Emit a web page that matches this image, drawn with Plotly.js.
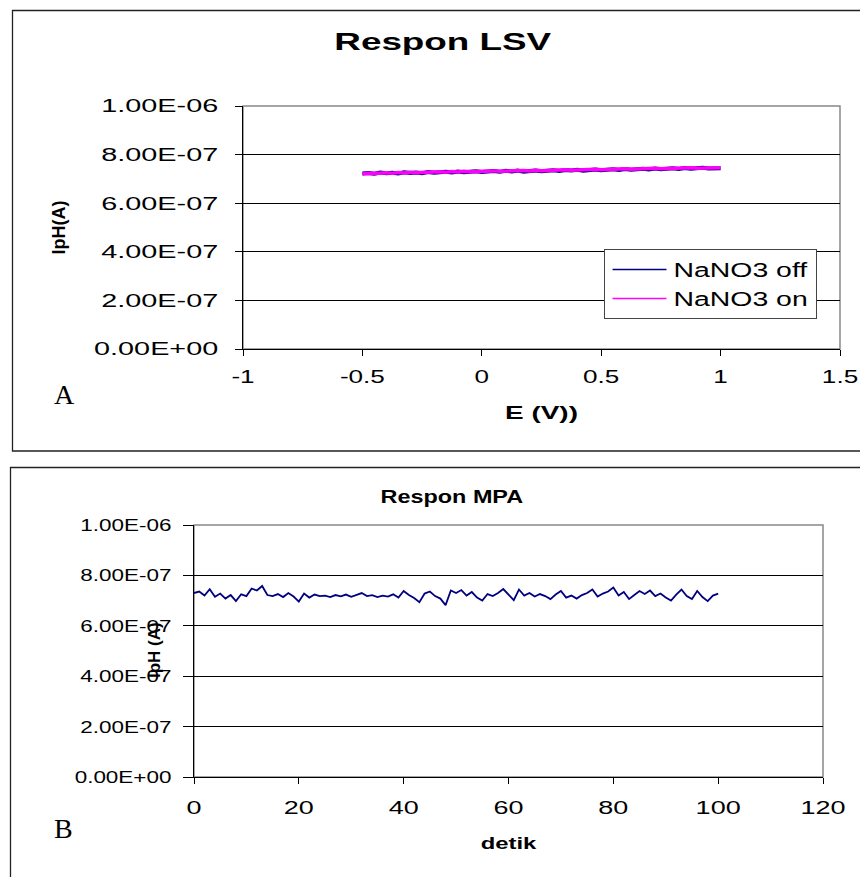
<!DOCTYPE html>
<html>
<head>
<meta charset="utf-8">
<script src="https://cdn.plot.ly/plotly-3.0.1.min.js"></script>
<style>
html,body{margin:0;padding:0;background:#fff;}
#chart{width:860px;height:877px;}
</style>
</head>
<body>
<div id="chart"></div>
<script>
// ---------- data ----------
var lsvE = [-0.5,-0.475,-0.45,-0.425,-0.4,-0.375,-0.35,-0.325,-0.3,-0.275,-0.25,-0.225,-0.2,-0.175,-0.15,-0.125,-0.1,-0.075,-0.05,-0.025,0,0.025,0.05,0.075,0.1,0.125,0.15,0.175,0.2,0.225,0.25,0.275,0.3,0.325,0.35,0.375,0.4,0.425,0.45,0.475,0.5,0.525,0.55,0.575,0.6,0.625,0.65,0.675,0.7,0.725,0.75,0.775,0.8,0.825,0.85,0.875,0.9,0.925,0.95,0.975,1.0];
var lsvOff = [7.22e-7,7.24e-7,7.21e-7,7.26e-7,7.23e-7,7.25e-7,7.22e-7,7.27e-7,7.24e-7,7.26e-7,
7.23e-7,7.28e-7,7.25e-7,7.27e-7,7.29e-7,7.26e-7,7.30e-7,7.27e-7,7.29e-7,7.31e-7,
7.28e-7,7.30e-7,7.32e-7,7.29e-7,7.33e-7,7.31e-7,7.34e-7,7.30e-7,7.33e-7,7.35e-7,
7.32e-7,7.34e-7,7.36e-7,7.33e-7,7.37e-7,7.35e-7,7.38e-7,7.34e-7,7.37e-7,7.39e-7,
7.36e-7,7.38e-7,7.40e-7,7.37e-7,7.41e-7,7.38e-7,7.40e-7,7.42e-7,7.39e-7,7.43e-7,
7.40e-7,7.42e-7,7.44e-7,7.41e-7,7.45e-7,7.42e-7,7.44e-7,7.46e-7,7.43e-7,7.45e-7,
7.44e-7];
var lsvOn = [7.20e-7,7.23e-7,7.22e-7,7.24e-7,7.25e-7,7.23e-7,7.26e-7,7.24e-7,7.27e-7,7.25e-7,
7.26e-7,7.28e-7,7.26e-7,7.29e-7,7.27e-7,7.30e-7,7.28e-7,7.31e-7,7.29e-7,7.30e-7,
7.32e-7,7.30e-7,7.33e-7,7.31e-7,7.32e-7,7.34e-7,7.32e-7,7.35e-7,7.33e-7,7.36e-7,
7.34e-7,7.35e-7,7.37e-7,7.35e-7,7.38e-7,7.36e-7,7.37e-7,7.39e-7,7.37e-7,7.40e-7,
7.38e-7,7.39e-7,7.41e-7,7.39e-7,7.42e-7,7.40e-7,7.41e-7,7.43e-7,7.41e-7,7.44e-7,
7.42e-7,7.43e-7,7.45e-7,7.43e-7,7.44e-7,7.46e-7,7.44e-7,7.45e-7,7.47e-7,7.45e-7,
7.46e-7];

var mpaT = [0,1,2,3,4,5,6,7,8,9,10,11,12,13,14,15,16,17,18,19,20,21,22,23,24,25,26,27,28,29,30,31,32,33,34,35,36,37,38,39,40,41,42,43,44,45,46,47,48,49,50,51,52,53,54,55,56,57,58,59,60,61,62,63,64,65,66,67,68,69,70,71,72,73,74,75,76,77,78,79,80,81,82,83,84,85,86,87,88,89,90,91,92,93,94,95,96,97,98,99,100];
var mpaI = [7.30e-7,7.36e-7,7.20e-7,7.45e-7,7.15e-7,7.28e-7,7.08e-7,7.22e-7,6.98e-7,7.25e-7,
7.18e-7,7.48e-7,7.40e-7,7.58e-7,7.22e-7,7.18e-7,7.26e-7,7.14e-7,7.30e-7,7.16e-7,
6.96e-7,7.28e-7,7.12e-7,7.24e-7,7.18e-7,7.20e-7,7.14e-7,7.22e-7,7.17e-7,7.24e-7,
7.15e-7,7.21e-7,7.30e-7,7.18e-7,7.22e-7,7.14e-7,7.20e-7,7.16e-7,7.25e-7,7.12e-7,
7.38e-7,7.22e-7,7.10e-7,6.94e-7,7.28e-7,7.36e-7,7.18e-7,7.08e-7,6.82e-7,7.40e-7,
7.30e-7,7.42e-7,7.20e-7,7.34e-7,7.12e-7,7.00e-7,7.26e-7,7.18e-7,7.30e-7,7.46e-7,
7.22e-7,7.02e-7,7.44e-7,7.20e-7,7.30e-7,7.16e-7,7.26e-7,7.18e-7,7.06e-7,7.24e-7,
7.38e-7,7.12e-7,7.20e-7,7.08e-7,7.22e-7,7.30e-7,7.44e-7,7.16e-7,7.28e-7,7.36e-7,
7.52e-7,7.20e-7,7.34e-7,7.06e-7,7.22e-7,7.38e-7,7.26e-7,7.40e-7,7.18e-7,7.28e-7,
7.12e-7,7.00e-7,7.24e-7,7.44e-7,7.18e-7,7.06e-7,7.38e-7,7.14e-7,6.98e-7,7.20e-7,
7.28e-7];

var yTickVals = [0,2e-7,4e-7,6e-7,8e-7,1e-6];
var yTickText = ['0.00E+00','2.00E-07','4.00E-07','6.00E-07','8.00E-07','1.00E-06'];
var lsvXTickVals = [-1,-0.5,0,0.5,1,1.5];
var lsvXTickText = ['-1','-0.5','0','0.5','1','1.5'];
var mpaXTickVals = [0,20,40,60,80,100,120];
var mpaXTickText = ['0','20','40','60','80','100','120'];

// ---------- layout helpers ----------
var W = 860, H = 877;
function px(x){return x/W;}
function py(y){return 1-y/H;}
var FONT = 'Liberation Sans, Arial, sans-serif';

var traces = [
  {x: lsvE, y: lsvOff, type:'scatter', mode:'lines', name:'NaNO3 off',
   line:{color:'#000080', width:4}, xaxis:'x', yaxis:'y'},
  {x: lsvE, y: lsvOn, type:'scatter', mode:'lines', name:'NaNO3 on',
   line:{color:'#FF00FF', width:3.5}, xaxis:'x', yaxis:'y'},
  {x: mpaT, y: mpaI, type:'scatter', mode:'lines', name:'MPA',
   line:{color:'#000080', width:1.8}, xaxis:'x2', yaxis:'y2', showlegend:false}
];

function yAxisDef(dom, anchor, size, ticklen, standoff){
  return {domain: dom, anchor: anchor, range:[0,1e-6], tickvals: yTickVals, ticktext: yTickText,
    showgrid:true, gridcolor:'#000', gridwidth:1, zeroline:false,
    showline:true, linecolor:'#000', linewidth:1.2, ticks:'outside', ticklen:ticklen, tickcolor:'#000',
    ticklabelstandoff: standoff, tickfont:{family:FONT, size:size, color:'#000'}, fixedrange:true};
}

var layout = {
  width: W, height: H,
  margin:{l:0,r:0,t:0,b:0},
  paper_bgcolor:'#fff', plot_bgcolor:'rgba(0,0,0,0)',
  showlegend:true,
  legend:{x: px(604), y: py(249), xanchor:'left', yanchor:'top',
    bgcolor:'#fff', bordercolor:'#444', borderwidth:1, itemwidth:38,
    font:{family:FONT, size:20, color:'#000'}, tracegroupgap:0},
  xaxis:{domain:[px(243), px(840)], anchor:'y', range:[-1,1.5],
    tickvals: lsvXTickVals, ticktext: lsvXTickText,
    showgrid:false, zeroline:false, showline:true, linecolor:'#000', linewidth:1.2,
    ticks:'outside', ticklen:6, tickcolor:'#000', ticklabelstandoff:5,
    tickfont:{family:FONT, size:18, color:'#000'},
    title:{text:'E (V))', font:{family:FONT, size:18, weight:'bold', color:'#000'}, standoff:20}},
  yaxis: Object.assign(yAxisDef([py(349), py(106)], 'x', 18, 7, 13),
    {title:{text:'IpH(A)', font:{family:FONT, size:18, weight:'bold', color:'#000'}, standoff:70}}),
  xaxis2:{domain:[px(194), px(823)], anchor:'y2', range:[0,120],
    tickvals: mpaXTickVals, ticktext: mpaXTickText,
    showgrid:false, zeroline:false, showline:true, linecolor:'#000', linewidth:1.2,
    ticks:'outside', ticklen:6, tickcolor:'#000', ticklabelstandoff:8,
    tickfont:{family:FONT, size:18, color:'#000'},
    title:{text:'detik', font:{family:FONT, size:17, weight:'bold', color:'#000'}, standoff:20}},
  yaxis2: yAxisDef([py(777), py(525)], 'x2', 17, 10, 8),
  shapes:[
    // outer chart boxes
    {type:'rect', xref:'paper', yref:'paper', x0:px(12.5), x1:1.02, y0:py(451), y1:py(10.5),
     line:{color:'#222', width:1.3}, fillcolor:'rgba(0,0,0,0)', layer:'below'},
    {type:'rect', xref:'paper', yref:'paper', x0:px(10.5), x1:1.02, y0:-0.02, y1:py(467.5),
     line:{color:'#222', width:1.3}, fillcolor:'rgba(0,0,0,0)', layer:'below'},
    // plot area frames (grey)
    {type:'rect', xref:'x domain', yref:'y domain', x0:0, x1:1, y0:0, y1:1,
     line:{color:'#888', width:1.5}, layer:'below'},
    {type:'rect', xref:'x2 domain', yref:'y2 domain', x0:0, x1:1, y0:0, y1:1,
     line:{color:'#888', width:1.5}, layer:'below'}
  ],
  annotations:[
    {text:'Respon LSV', xref:'paper', yref:'paper', x:px(443), y:py(42), showarrow:false,
     xanchor:'center', yanchor:'middle', font:{family:FONT, size:23, weight:'bold', color:'#000'}},
    {text:'Respon MPA', xref:'paper', yref:'paper', x:px(452), y:py(497), showarrow:false,
     xanchor:'center', yanchor:'middle', font:{family:FONT, size:18, weight:'bold', color:'#000'}},
    {text:'IpH (A)', xref:'paper', yref:'paper', x:px(154), y:py(650), showarrow:false, textangle:-90,
     xanchor:'center', yanchor:'middle', font:{family:FONT, size:17, weight:'bold', color:'#000'}},
    {text:'A', xref:'paper', yref:'paper', x:px(64), y:py(395), showarrow:false,
     xanchor:'center', yanchor:'middle', font:{family:'Liberation Serif, Times New Roman, serif', size:28, color:'#000'}},
    {text:'B', xref:'paper', yref:'paper', x:px(63), y:py(828), showarrow:false,
     xanchor:'center', yanchor:'middle', font:{family:'Liberation Serif, Times New Roman, serif', size:28, color:'#000'}}
  ]
};

function stretchEl(t, k){
  var w = t.getComputedTextLength();
  if (w > 0){ t.setAttribute('textLength', (w*k).toFixed(1)); t.setAttribute('lengthAdjust','spacingAndGlyphs'); }
}
function stretchText(gd){
  var groups = [
    ['.ytick text', 1.6], ['.xtick text', 1.45],
    ['.y2tick text', 1.32], ['.x2tick text', 1.5],
    ['.g-xtitle text', 1.55], ['.g-x2title text', 1.4]
  ];
  groups.forEach(function(g){
    gd.querySelectorAll(g[0]).forEach(function(t){ stretchEl(t, g[1]); });
  });
  var annK = {'Respon LSV':1.6, 'Respon MPA':1.3};
  gd.querySelectorAll('text.annotation-text').forEach(function(t){
    var k = annK[t.textContent];
    if (k) stretchEl(t, k);
  });
  gd.querySelectorAll('g.legend path.js-line').forEach(function(p){
    p.style.strokeWidth = '1.6px';
  });
  var lg = gd.querySelector('g.legend');
  if (lg){
    var tr = lg.getAttribute('transform') || '';
    lg.setAttribute('transform', tr + ' scale(1.42,1)');
  }
}

Plotly.newPlot('chart', traces, layout, {staticPlot:true, displayModeBar:false}).then(stretchText);
</script>
</body>
</html>
